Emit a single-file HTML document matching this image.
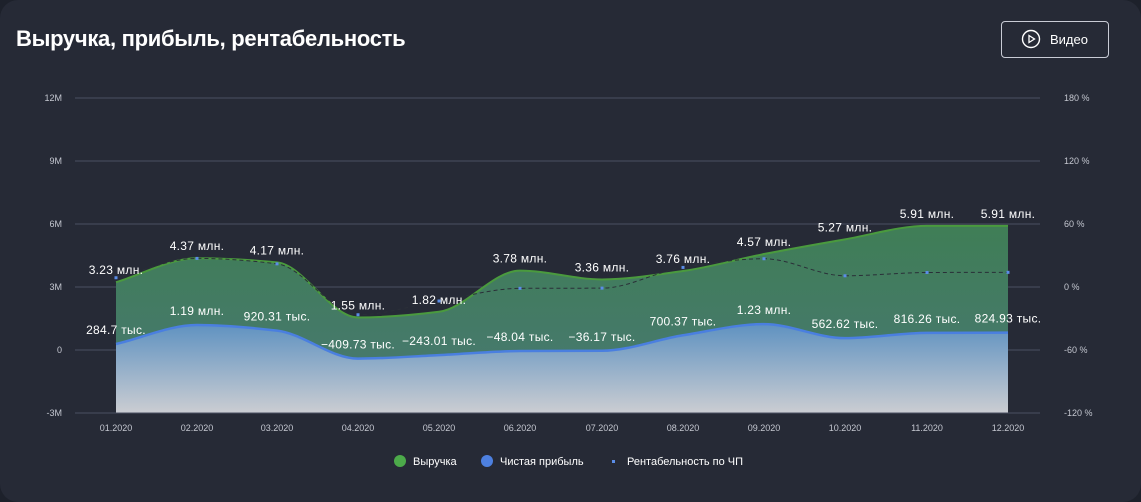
<!DOCTYPE html>
<html><head><meta charset="utf-8"><style>
html,body{margin:0;padding:0;background:#1d212b;}
.card{position:absolute;left:0;top:0;width:1141px;height:502px;background:#262a36;border-radius:18px;overflow:hidden;font-family:"Liberation Sans",sans-serif;}
h1{position:absolute;left:16px;top:26px;margin:0;color:#fff;font-size:22px;font-weight:bold;letter-spacing:-0.3px}
.btn{position:absolute;left:1001px;top:21px;width:108px;height:37px;border:1px solid #c9ccd6;border-radius:4px;box-sizing:border-box;color:#fff;font-size:13px;}
.btn span{position:absolute;left:48px;top:10px}
svg text{font-family:"Liberation Sans",sans-serif}
</style></head><body><div class="card">
<h1>Выручка, прибыль, рентабельность</h1>
<div class="btn"><svg width="20" height="20" style="position:absolute;left:19px;top:7px"><circle cx="10" cy="10" r="8.5" fill="none" stroke="#fff" stroke-width="1.4"/><path d="M8 6.5L13.5 10L8 13.5Z" fill="none" stroke="#fff" stroke-width="1.3"/></svg><span>Видео</span></div>
<svg id="c" width="1141" height="502" style="position:absolute;left:0;top:0"></svg>
</div>
<script>
const xs=[116,197,277,358,439,520,602,683,764,845,927,1008];
const rev=[3.23,4.37,4.17,1.55,1.82,3.78,3.36,3.76,4.57,5.27,5.91,5.91];
const pr=[0.2847,1.19,0.92031,-0.40973,-0.24301,-0.04804,-0.03617,0.70037,1.23,0.56262,0.81626,0.82493];
const rl=["3.23 млн.","4.37 млн.","4.17 млн.","1.55 млн.","1.82 млн.","3.78 млн.","3.36 млн.","3.76 млн.","4.57 млн.","5.27 млн.","5.91 млн.","5.91 млн."];
const pl=["284.7 тыс.","1.19 млн.","920.31 тыс.","−409.73 тыс.","−243.01 тыс.","−48.04 тыс.","−36.17 тыс.","700.37 тыс.","1.23 млн.","562.62 тыс.","816.26 тыс.","824.93 тыс."];
const y=v=>350-v*21;
const ym=m=>287-m*1.05;
function path(pts){
 const n=pts.length;const d=[],m=[];
 for(let i=0;i<n-1;i++)d.push((pts[i+1][1]-pts[i][1])/(pts[i+1][0]-pts[i][0]));
 for(let i=0;i<n;i++){if(i==0)m.push(d[0]);else if(i==n-1)m.push(d[n-2]);else m.push(d[i-1]*d[i]<=0?0:2/(1/d[i-1]+1/d[i]));}
 let s="M"+pts[0][0]+","+pts[0][1];
 for(let i=0;i<n-1;i++){const h=(pts[i+1][0]-pts[i][0])/3;
 s+=`C${pts[i][0]+h},${pts[i][1]+m[i]*h} ${pts[i+1][0]-h},${pts[i+1][1]-m[i+1]*h} ${pts[i+1][0]},${pts[i+1][1]}`;}
 return s;}
let h=`<defs><linearGradient id="gb" gradientUnits="userSpaceOnUse" x1="0" y1="320" x2="0" y2="413"><stop offset="0" stop-color="#5a8fc0"/><stop offset="1" stop-color="#cbcdd2"/></linearGradient>
<linearGradient id="gg" gradientUnits="userSpaceOnUse" x1="0" y1="220" x2="0" y2="360"><stop offset="0" stop-color="#3f7e55"/><stop offset="1" stop-color="#46796c"/></linearGradient></defs>`;
const yl=["12M","9M","6M","3M","0","-3M"],yr=["180 %","120 %","60 %","0 %","-60 %","-120 %"];
for(let i=0;i<6;i++){const yy=98+i*63;
h+=`<line x1="75" x2="1040" y1="${yy}" y2="${yy}" stroke="#4a5063" stroke-width="1"/>`;
h+=`<text x="62" y="${yy+3}" fill="#c4c7d0" font-size="9" text-anchor="end">${yl[i]}</text>`;
h+=`<text x="1064" y="${yy+3}" fill="#c4c7d0" font-size="9">${yr[i]}</text>`;}
const rp=xs.map((x,i)=>[x,y(rev[i])]),pp=xs.map((x,i)=>[x,y(pr[i])]);
const mp=xs.map((x,i)=>[x,ym(pr[i]/rev[i]*100)]);
const rs=path(rp),ps=path(pp);
h+=`<path d="${rs}L1008,413L116,413Z" fill="url(#gg)"/>`;
h+=`<path d="${ps}L1008,413L116,413Z" fill="url(#gb)"/>`;
h+=`<line x1="75" x2="1040" y1="413" y2="413" stroke="#4a5063"/>`;
h+=`<path d="${rs}" fill="none" stroke="#4a9a3e" stroke-width="2"/>`;
h+=`<path d="${ps}" fill="none" stroke="#4a7fe0" stroke-width="2.5"/>`;
h+=`<path d="${path(mp)}" fill="none" stroke="#2a2f38" stroke-width="1" stroke-dasharray="4,3"/>`;
const months=["01","02","03","04","05","06","07","08","09","10","11","12"];
xs.forEach((x,i)=>{
h+=`<rect x="${x-1.5}" y="${mp[i][1]-1.5}" width="3" height="3" fill="#5b8de8"/>`;
h+=`<text x="${x}" y="431" fill="#c4c7d0" font-size="9" text-anchor="middle">${months[i]}.2020</text>`;
h+=`<text x="${x}" y="${rp[i][1]-8}" fill="#fff" font-size="12" text-anchor="middle" letter-spacing="0.3">${rl[i]}</text>`;
h+=`<text x="${x}" y="${pp[i][1]-10}" fill="#fff" font-size="12" text-anchor="middle" letter-spacing="0.3">${pl[i]}</text>`;});
h+=`<circle cx="400" cy="461" r="6" fill="#4caa4a"/><text x="413" y="465" fill="#fff" font-size="11">Выручка</text>`;
h+=`<circle cx="487" cy="461" r="6" fill="#4d80e0"/><text x="500" y="465" fill="#fff" font-size="11">Чистая прибыль</text>`;
h+=`<rect x="612" y="460" width="3" height="3" fill="#5b8de8"/><text x="627" y="465" fill="#fff" font-size="11">Рентабельность по ЧП</text>`;
document.getElementById("c").innerHTML=h;
</script></body></html>
